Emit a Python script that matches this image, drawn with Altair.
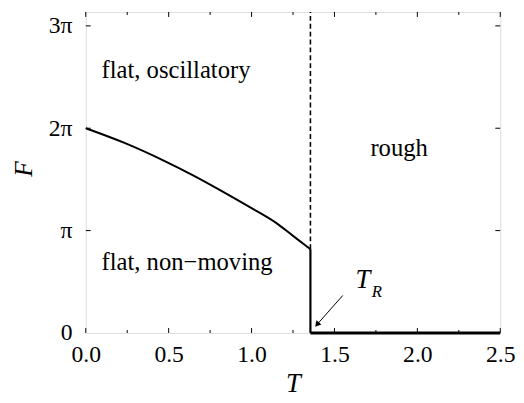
import math
import altair as alt
import pandas as pd

PI = math.pi

# ---- data ----
curve_T = [0.0, 0.23, 0.47, 0.65, 0.85, 1.0, 1.15, 1.25, 1.355]
curve_F = [2 * PI, 5.84, 5.29, 4.83, 4.27, 3.83, 3.37, 2.98, 2.57]

T_R = 1.355
F_R = 2.57
T_MAX = 2.5
F_MAX = 9.85

x_major = [0.0, 0.5, 1.0, 1.5, 2.0, 2.5]
x_minor = [0.25, 0.75, 1.25, 1.75, 2.25]
y_ticks = [PI, 2 * PI, 3 * PI]
y_label_vals = [0.0, PI, 2 * PI, 3 * PI]

left_labels = ["flat, oscillatory", "flat, non\u2212moving"]
left_label_T = [0.095, 0.095]
left_label_F = [8.07, 2.18]

center_labels = ["rough"]
center_label_T = [1.89]
center_label_F = [5.68]

tr_T, tr_F = [1.672], [1.63]
tr_sub_T, tr_sub_F = [1.755], [1.27]

arrow_T = [1.55]
arrow_F = [1.15]
arrow_T2 = [1.395]
arrow_F2 = [0.26]

# ---- layout ----
W, H = 421, 326
SERIF = "Liberation Serif"

xs = alt.Scale(domain=[0, T_MAX], nice=False, zero=False)
ys = alt.Scale(domain=[0, F_MAX], nice=False, zero=False)

x_axis = alt.Axis(
    values=x_major, format=".1f", title="T", labelFlush=False, labelOverlap=False,
    tickSize=0, domain=False, grid=False, labelPadding=10,
    labelFont=SERIF, labelFontSize=24, labelColor="black",
    titleFont=SERIF, titleFontSize=27, titleFontStyle="italic", titleFontWeight="normal",
    titleColor="black", titleBaseline="alphabetic", titleY=59,
)
y_axis = alt.Axis(
    values=y_label_vals,
    labelExpr="round(datum.value/PI) == 0 ? '0' : (round(datum.value/PI) == 1 ? 'π' : round(datum.value/PI) + 'π')",
    title="F", labelFlush=False, labelOverlap=False,
    tickSize=0, domain=False, grid=False, labelPadding=14,
    labelFont=SERIF, labelFontSize=24, labelColor="black",
    titleFont=SERIF, titleFontSize=26, titleFontStyle="italic", titleFontWeight="normal",
    titleColor="black", titleAngle=270, titleBaseline="alphabetic", titleAlign="center",
    titleX=-55, titleY=159,
)


def X(field="T"):
    return alt.X(f"{field}:Q", scale=xs, axis=x_axis)


def Y(field="F"):
    return alt.Y(f"{field}:Q", scale=ys, axis=y_axis)


curve_df = pd.DataFrame({"T": curve_T, "F": curve_F})
curve = alt.Chart(curve_df).mark_line(
    color="black", strokeWidth=2, interpolate="monotone"
).encode(x=X(), y=Y())

trans_df = pd.DataFrame({"T": [T_R], "F": [0.0], "F2": [F_R], "F3": [F_MAX], "T2": [T_MAX]})
solid_v = alt.Chart(trans_df).mark_rule(color="black", strokeWidth=2.2).encode(
    x=X(), y=Y(), y2="F2:Q")
dashed_v = alt.Chart(trans_df).mark_rule(color="black", strokeWidth=1.6, strokeDash=[5, 3]).encode(
    x=X(), y=Y("F2"), y2="F3:Q")
rough_h = alt.Chart(trans_df).mark_rule(color="black", strokeWidth=3).encode(
    x=X(), x2="T2:Q", y=Y())

# ticks (inward, all four sides)
xmaj_df = pd.DataFrame({"T": x_major})
xmin_df = pd.DataFrame({"T": x_minor})
yt_df = pd.DataFrame({"F": y_ticks})
tick_layers = [
    alt.Chart(xmaj_df).mark_rule(color="black").encode(x=X(), y=alt.value(H), y2=alt.value(H - 5)),
    alt.Chart(xmaj_df).mark_rule(color="black").encode(x=X(), y=alt.value(0), y2=alt.value(5)),
    alt.Chart(xmin_df).mark_rule(color="black").encode(x=X(), y=alt.value(H), y2=alt.value(H - 3)),
    alt.Chart(xmin_df).mark_rule(color="black").encode(x=X(), y=alt.value(0), y2=alt.value(3)),
    alt.Chart(yt_df).mark_rule(color="black").encode(y=Y(), x=alt.value(0), x2=alt.value(5)),
    alt.Chart(yt_df).mark_rule(color="black").encode(y=Y(), x=alt.value(W), x2=alt.value(W - 5)),
]

left_df = pd.DataFrame({"T": left_label_T, "F": left_label_F, "txt": left_labels})
left_text = alt.Chart(left_df).mark_text(
    align="left", baseline="middle", font=SERIF, fontSize=25, color="black"
).encode(x=X(), y=Y(), text="txt:N")

center_df = pd.DataFrame({"T": center_label_T, "F": center_label_F, "txt": center_labels})
center_text = alt.Chart(center_df).mark_text(
    align="center", baseline="middle", font=SERIF, fontSize=25, color="black"
).encode(x=X(), y=Y(), text="txt:N")

tr_df = pd.DataFrame({"T": tr_T, "F": tr_F, "txt": ["T"]})
tr_text = alt.Chart(tr_df).mark_text(
    align="center", baseline="middle", font=SERIF, fontSize=27, fontStyle="italic", color="black"
).encode(x=X(), y=Y(), text="txt:N")
trs_df = pd.DataFrame({"T": tr_sub_T, "F": tr_sub_F, "txt": ["R"]})
trs_text = alt.Chart(trs_df).mark_text(
    align="center", baseline="middle", font=SERIF, fontSize=17, fontStyle="italic", color="black"
).encode(x=X(), y=Y(), text="txt:N")

arrow_df = pd.DataFrame({"T": arrow_T, "F": arrow_F, "T2": arrow_T2, "F2": arrow_F2})
arrow_line = alt.Chart(arrow_df).mark_rule(color="black", strokeWidth=1).encode(
    x=X(), y=Y(), x2="T2:Q", y2="F2:Q")
head_df = pd.DataFrame({"T": arrow_T2, "F": arrow_F2})
arrow_head = alt.Chart(head_df).mark_point(
    shape="triangle-up", filled=True, color="black", size=45, angle=221, opacity=1
).encode(x=X(), y=Y())

chart = alt.layer(
    curve, solid_v, dashed_v, rough_h, *tick_layers,
    left_text, center_text, tr_text, trs_text, arrow_line, arrow_head,
).properties(
    width=W, height=H,
    autosize=alt.AutoSizeParams(type="none"),
    padding={"left": 79, "top": 1, "right": 16, "bottom": 64},
).configure_view(
    stroke="black", strokeWidth=1
).configure(background="white")

chart.save("out.html", embed_options={"renderer": "svg", "actions": False})
